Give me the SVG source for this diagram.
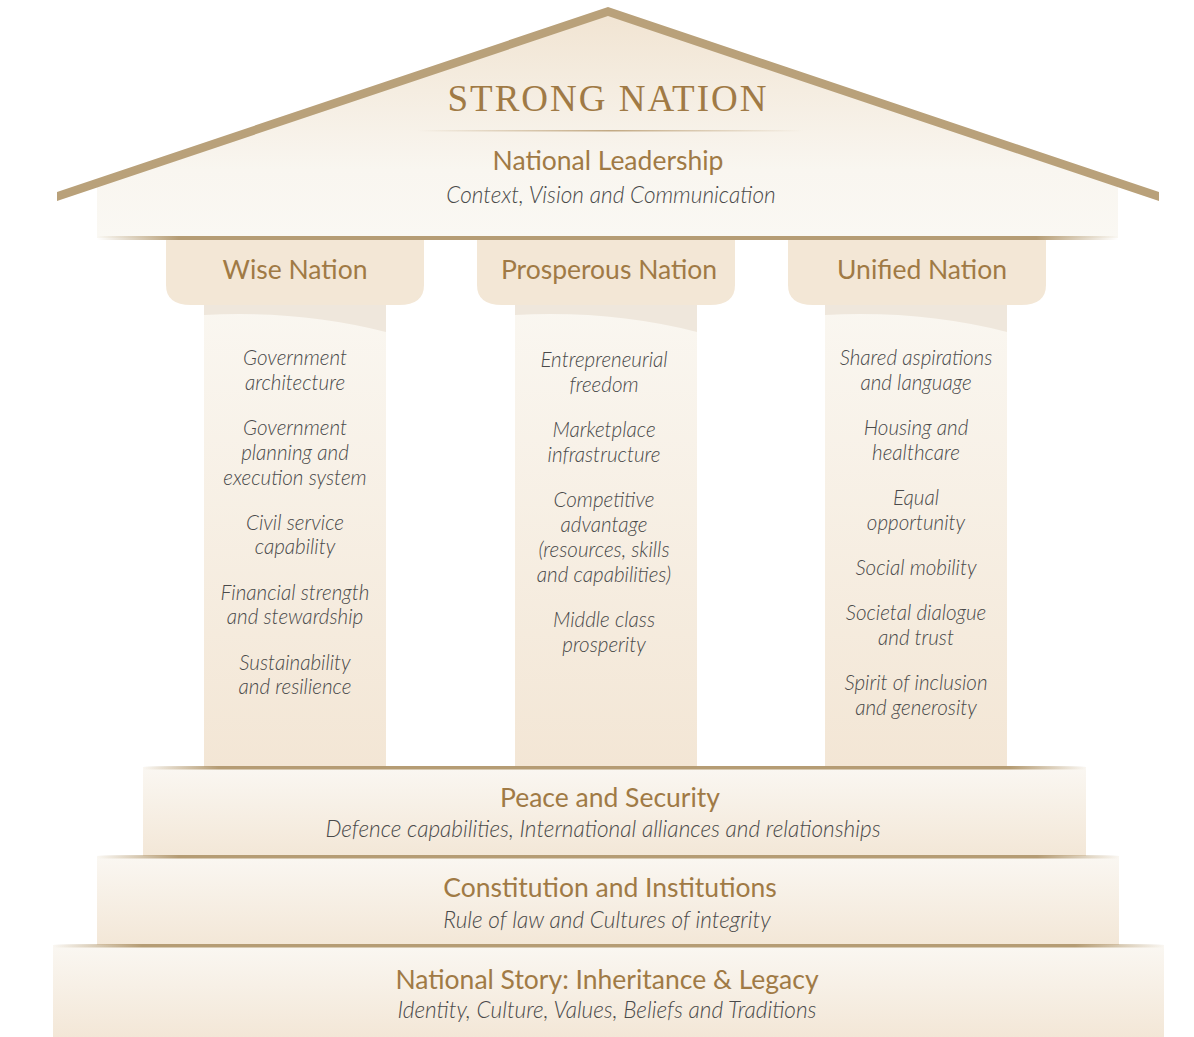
<svg xmlns="http://www.w3.org/2000/svg" width="1194" height="1037" viewBox="0 0 1194 1037">
<defs>
<linearGradient id="gRoof" x1="0" y1="0" x2="0" y2="1">
<stop offset="0" stop-color="#f1e4d2"/>
<stop offset="0.7" stop-color="#f9f6f0"/>
<stop offset="1" stop-color="#faf8f3"/>
</linearGradient>
<linearGradient id="gShaft" x1="0" y1="0" x2="0" y2="1">
<stop offset="0" stop-color="#faf7f1"/>
<stop offset="1" stop-color="#f3e6d5"/>
</linearGradient>
<linearGradient id="gStep" x1="0" y1="0" x2="0" y2="1">
<stop offset="0" stop-color="#faf7f2"/>
<stop offset="1" stop-color="#f3e7d7"/>
</linearGradient>
<linearGradient id="gLine" x1="0" y1="0" x2="1" y2="0">
<stop offset="0" stop-color="#b59c74" stop-opacity="0"/>
<stop offset="0.08" stop-color="#b59c74" stop-opacity="1"/>
<stop offset="0.92" stop-color="#b59c74" stop-opacity="1"/>
<stop offset="1" stop-color="#b59c74" stop-opacity="0"/>
</linearGradient>
<linearGradient id="gDiv" x1="0" y1="0" x2="1" y2="0">
<stop offset="0" stop-color="#c2a983" stop-opacity="0"/>
<stop offset="0.5" stop-color="#c2a983" stop-opacity="1"/>
<stop offset="1" stop-color="#c2a983" stop-opacity="0"/>
</linearGradient>
<path id="capShape" d="M0,0 H258 V45 Q258,65 233,65 H25 Q0,65 0,45 Z"/>
</defs>
<style>
.head{font-family:Lato,"Noto Sans",sans-serif;fill:#a07a45;text-anchor:middle;font-size:26.5px;}
.sub{font-family:Lato,"Noto Sans",sans-serif;font-style:italic;font-weight:300;fill:#4a4a4a;text-anchor:middle;font-size:22.6px;}
.item{font-family:Lato,"Noto Sans",sans-serif;font-style:italic;font-weight:300;fill:#4a4a4a;text-anchor:middle;font-size:20.6px;}
.cap{fill:#f3e7d6;}
.shaft{fill:url(#gShaft);}
.band{fill:#efe7dc;}
.step{fill:url(#gStep);}
.tline{fill:url(#gLine);}
</style>
<rect width="1194" height="1037" fill="#ffffff"/>

<g id="roof">
<polygon points="97,182 608,12 1118,182 1118,238 97,238" fill="url(#gRoof)"/>
<polygon points="57,192 608,7 1159,192 1159,201 608,16 57,201" fill="#b9a17a"/>
<rect x="97" y="236" width="1021" height="4" class="tline"/>
<text x="608" y="111" font-family="'Liberation Serif',serif" font-size="37" letter-spacing="2" fill="#a07a45" text-anchor="middle">STRONG NATION</text>
<rect x="417" y="130" width="386" height="1.5" fill="url(#gDiv)"/>
<text class="head" x="608" y="170">National Leadership</text>
<text class="sub" x="611" y="203">Context, Vision and Communication</text>
</g>

<g id="wise-nation">
<rect x="204" y="305" width="182" height="462" class="shaft"/>
<path d="M204,305 H386 V332 Q300,310 204,315 Z" class="band"/>
<use href="#capShape" x="166" y="240" class="cap"/>
<text class="head" x="295" y="279" font-size="27">Wise Nation</text>
<text class="item" x="295" y="365">Government</text>
<text class="item" x="295" y="390">architecture</text>
<text class="item" x="295" y="435">Government</text>
<text class="item" x="295" y="460">planning and</text>
<text class="item" x="295" y="485">execution system</text>
<text class="item" x="295" y="530">Civil service</text>
<text class="item" x="295" y="554">capability</text>
<text class="item" x="295" y="600">Financial strength</text>
<text class="item" x="295" y="624">and stewardship</text>
<text class="item" x="295" y="670">Sustainability</text>
<text class="item" x="295" y="694">and resilience</text>
</g>

<g id="prosperous-nation">
<rect x="515" y="305" width="182" height="462" class="shaft"/>
<path d="M515,305 H697 V332 Q611,310 515,315 Z" class="band"/>
<use href="#capShape" x="477" y="240" class="cap"/>
<text class="head" x="609" y="279" font-size="27">Prosperous Nation</text>
<text class="item" x="604" y="367">Entrepreneurial</text>
<text class="item" x="604" y="392">freedom</text>
<text class="item" x="604" y="437">Marketplace</text>
<text class="item" x="604" y="462">infrastructure</text>
<text class="item" x="604" y="507">Competitive</text>
<text class="item" x="604" y="532">advantage</text>
<text class="item" x="604" y="557">(resources, skills</text>
<text class="item" x="604" y="582">and capabilities)</text>
<text class="item" x="604" y="627">Middle class</text>
<text class="item" x="604" y="652">prosperity</text>
</g>

<g id="unified-nation">
<rect x="825" y="305" width="182" height="462" class="shaft"/>
<path d="M825,305 H1007 V332 Q921,310 825,315 Z" class="band"/>
<use href="#capShape" x="788" y="240" class="cap"/>
<text class="head" x="922" y="279" font-size="27">Unified Nation</text>
<text class="item" x="916" y="365">Shared aspirations</text>
<text class="item" x="916" y="390">and language</text>
<text class="item" x="916" y="435">Housing and</text>
<text class="item" x="916" y="460">healthcare</text>
<text class="item" x="916" y="505">Equal</text>
<text class="item" x="916" y="530">opportunity</text>
<text class="item" x="916" y="575">Social mobility</text>
<text class="item" x="916" y="620">Societal dialogue</text>
<text class="item" x="916" y="645">and trust</text>
<text class="item" x="916" y="690">Spirit of inclusion</text>
<text class="item" x="916" y="715">and generosity</text>
</g>

<g id="peace-security">
<rect x="143" y="767" width="943" height="89" class="step"/>
<rect x="143" y="766" width="943" height="3.5" class="tline"/>
<text class="head" x="610" y="807">Peace and Security</text>
<text class="sub" x="603" y="837">Defence capabilities, International alliances and relationships</text>
</g>

<g id="constitution-institutions">
<rect x="97" y="856" width="1022" height="89" class="step"/>
<rect x="97" y="855" width="1022" height="3.5" class="tline"/>
<text class="head" x="610" y="897">Constitution and Institutions</text>
<text class="sub" x="607" y="928">Rule of law and Cultures of integrity</text>
</g>

<g id="national-story">
<rect x="53" y="945" width="1111" height="92" class="step"/>
<rect x="53" y="944" width="1111" height="3.5" class="tline"/>
<text class="head" x="607" y="989">National Story: Inheritance &amp; Legacy</text>
<text class="sub" x="607" y="1018">Identity, Culture, Values, Beliefs and Traditions</text>
</g>
</svg>
